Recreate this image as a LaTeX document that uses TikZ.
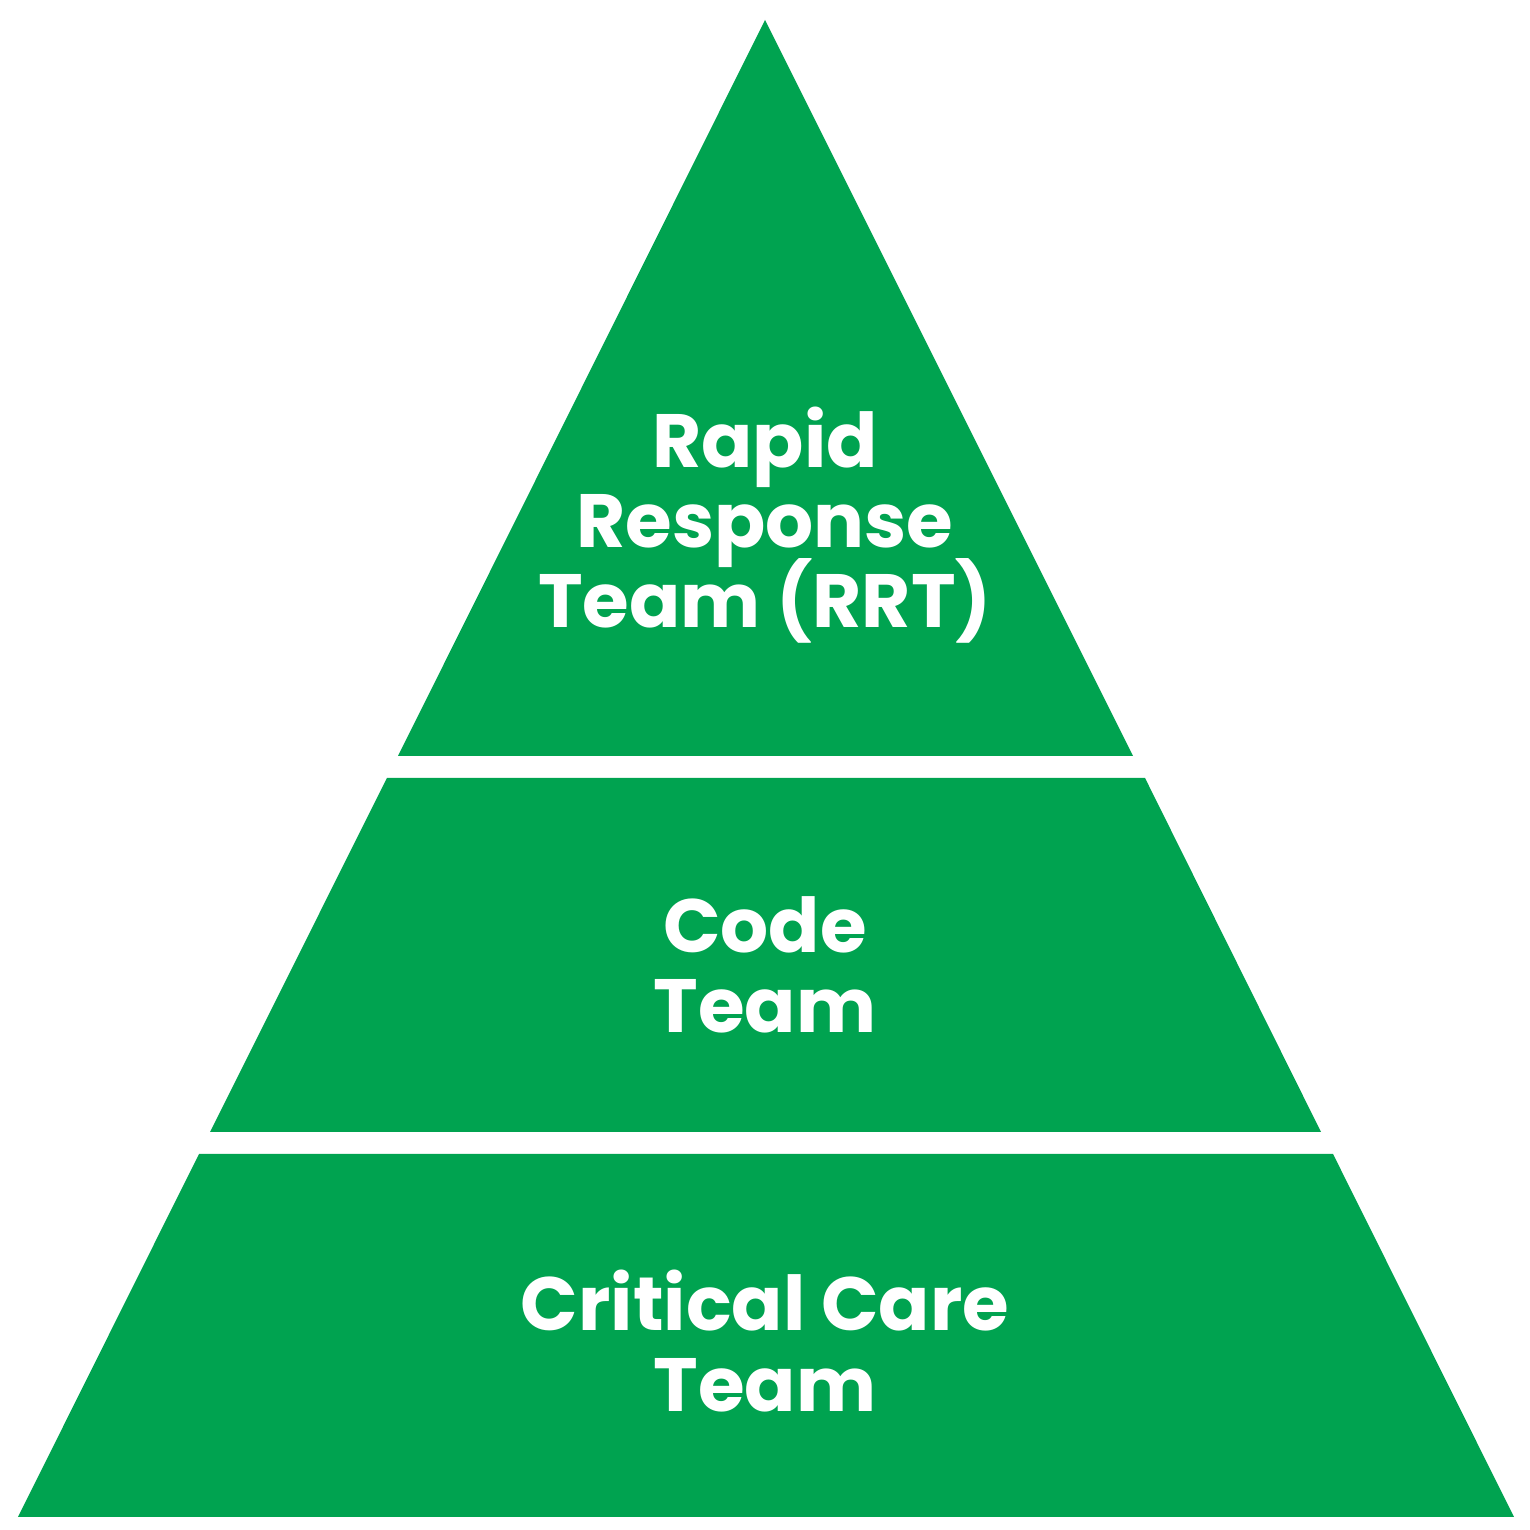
\documentclass[tikz,border=0pt]{standalone}
\usepackage{fontspec}
\setmainfont{Poppins}
\usepackage{xcolor}
\usepackage{tikz}
\definecolor{pyrgreen}{RGB}{0,163,80}
\newcommand{\tightlines}{\lineskiplimit=-20pt\relax}
\tikzset{
  layer/.style={fill=pyrgreen},
  label/.style={text=white, align=center,
    font=\bfseries\fontsize{21.5}{22.8}\selectfont\tightlines}
}
\begin{document}
\begin{tikzpicture}
    \useasboundingbox (0,0) rectangle (15.3,15.3);
    \fill[white] (0,0) rectangle (15.3,15.3);
    % top layer
    \fill[layer] (7.65,15.10) -- (11.33,7.74) -- (3.98,7.74) -- cycle;
    \node[label] (rrt) at (7.65,10.05) {Rapid\\Response\\Team (RRT)};
    % middle layer
    \fill[layer] (3.87,7.52) -- (11.45,7.52) -- (13.21,3.98) -- (2.10,3.98) -- cycle;
    \node[label] (code) at (7.65,5.65) {Code\\Team};
    % bottom layer
    \fill[layer] (1.99,3.76) -- (13.33,3.76) -- (15.14,0.13) -- (0.18,0.13) -- cycle;
    \node[label] (crit) at (7.65,1.89) {Critical Care\\Team};
  \end{tikzpicture}
\end{document}
